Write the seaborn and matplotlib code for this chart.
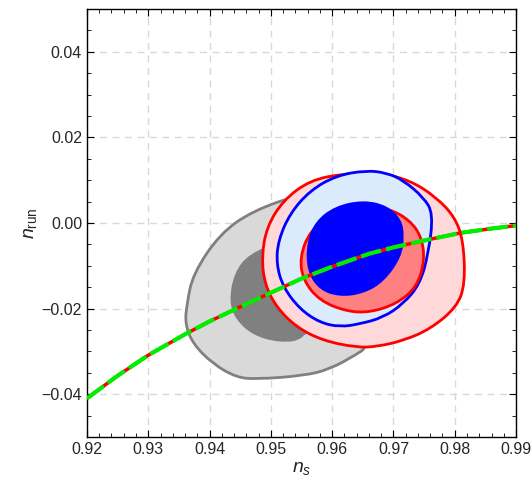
import numpy as np
import pandas as pd
import matplotlib
matplotlib.use("Agg")
import matplotlib.pyplot as plt
from matplotlib.path import Path
from matplotlib.patches import PathPatch
import seaborn as sns

# contour outlines (n_s, n_run)
gray_outer_ns = [0.9552, 0.9471, 0.9417, 0.9373, 0.9363, 0.9360, 0.9373, 0.9406, 0.9444, 0.9477,
                 0.9553, 0.9596, 0.9640, 0.9656, 0.9680, 0.9680, 0.9630, 0.9580]
gray_outer_nrun = [0.0069, 0.0029, -0.0025, -0.0119, -0.0189, -0.0236, -0.0283, -0.0330, -0.0361, -0.0365,
                   -0.0357, -0.0342, -0.0307, -0.0291, -0.0200, -0.0050, 0.0040, 0.0068]

gray_inner_ns = [0.9520, 0.9464, 0.9440, 0.9432, 0.9442, 0.9471, 0.9515, 0.9555, 0.9580, 0.9580, 0.9555]
gray_inner_nrun = [-0.0040, -0.0072, -0.0117, -0.0182, -0.0225, -0.0263, -0.0280, -0.0273, -0.0200, -0.0100, -0.0040]

red_outer_ns = [0.9564, 0.9520, 0.9493, 0.9485, 0.9490, 0.9509, 0.9542, 0.9585, 0.9640, 0.9673,
                0.9716, 0.9760, 0.9803, 0.9817, 0.9814, 0.9800, 0.9770, 0.9727, 0.9673, 0.9618]
red_outer_nrun = [0.0100, 0.0053, -0.0010, -0.0080, -0.0143, -0.0197, -0.0244, -0.0275, -0.0291, -0.0289,
                  -0.0275, -0.0248, -0.0197, -0.0143, -0.0041, 0.0014, 0.0060, 0.0100, 0.0119, 0.0115]

blue_outer_ns = [0.9656, 0.9607, 0.9564, 0.9531, 0.9512, 0.9509, 0.9520, 0.9547, 0.9580, 0.9613,
                 0.9645, 0.9683, 0.9716, 0.9743, 0.9757, 0.9765, 0.9749, 0.9716, 0.9689]
blue_outer_nrun = [0.0123, 0.0111, 0.0076, 0.0022, -0.0041, -0.0096, -0.0150, -0.0201, -0.0233, -0.0243,
                   -0.0236, -0.0221, -0.0189, -0.0143, -0.0072, 0.0022, 0.0060, 0.0100, 0.0117]

red_inner_ns = [0.9651, 0.9602, 0.9564, 0.9547, 0.9553, 0.9580, 0.9624, 0.9662, 0.9705, 0.9738,
                0.9751, 0.9746, 0.9727, 0.9694]
red_inner_nrun = [0.0041, 0.0025, -0.0018, -0.0080, -0.0135, -0.0182, -0.0207, -0.0209, -0.0189, -0.0150,
                  -0.0088, -0.0033, 0.0006, 0.0033]

blue_inner_ns = [0.9651, 0.9605, 0.9572, 0.9558, 0.9559, 0.9579, 0.9613, 0.9652, 0.9685, 0.9713,
                 0.9718, 0.9713, 0.9690]
blue_inner_nrun = [0.0054, 0.0040, 0.0004, -0.0049, -0.0113, -0.0157, -0.0173, -0.0165, -0.0137, -0.0080,
                   -0.0031, 0.0009, 0.0041]

# model curve
curve_ns = [0.920, 0.925, 0.930, 0.936, 0.940, 0.945, 0.950, 0.955, 0.960, 0.966,
            0.970, 0.975, 0.981, 0.986, 0.990]
curve_nrun = [-0.0410, -0.0357, -0.0309, -0.0260, -0.0230, -0.0196, -0.0163, -0.0130, -0.0102, -0.0072,
              -0.0057, -0.0041, -0.0023, -0.0013, -0.0006]


def smooth_region(ax, xs, ys, **kw):
    # closed quadratic bezier path: outline points act as control points
    pts = np.column_stack([xs, ys])
    n = len(pts)
    mids = (pts + np.roll(pts, -1, axis=0)) / 2
    verts = [mids[-1]]
    codes = [Path.MOVETO]
    for i in range(n):
        verts += [pts[i], mids[i]]
        codes += [Path.CURVE3, Path.CURVE3]
    verts.append(mids[-1])
    codes.append(Path.CLOSEPOLY)
    patch = PathPatch(Path(verts, codes), joinstyle='round', **kw)
    ax.add_patch(patch)


sns.set_style("ticks")
plt.rcParams['font.family'] = ['Liberation Sans', 'DejaVu Sans']
plt.rcParams['mathtext.fontset'] = 'custom'
plt.rcParams['mathtext.it'] = 'Liberation Sans:italic'
plt.rcParams['mathtext.rm'] = 'Liberation Sans'

fig = plt.figure(figsize=(5.32, 4.92), dpi=100)
ax = fig.add_axes([0.1635, 0.112, 0.8065, 0.8695])

smooth_region(ax, gray_outer_ns, gray_outer_nrun, facecolor='#d9d9d9', edgecolor='#808080', lw=2, zorder=1)
smooth_region(ax, gray_inner_ns, gray_inner_nrun, facecolor='#808080', edgecolor='none', zorder=2)
smooth_region(ax, red_outer_ns, red_outer_nrun, facecolor='#ffd9d9', edgecolor='#ff0000', lw=2, zorder=3)
smooth_region(ax, blue_outer_ns, blue_outer_nrun, facecolor='#dcebfb', edgecolor='#0000ff', lw=2, zorder=4)
smooth_region(ax, red_inner_ns, red_inner_nrun, facecolor='#ff8080', edgecolor='#ff0000', lw=2, zorder=5)
smooth_region(ax, blue_inner_ns, blue_inner_nrun, facecolor='#0000ff', edgecolor='none', zorder=6)

df = pd.DataFrame({'ns': curve_ns, 'nrun': curve_nrun})
sns.lineplot(data=df, x='ns', y='nrun', ax=ax, color='#ff0000', lw=2.5, sort=False, zorder=7)
sns.lineplot(data=df, x='ns', y='nrun', ax=ax, color='#00ee00', lw=3, sort=False, zorder=8)
ax.lines[-1].set_dashes([5, 1.2])

ax.set_xlim(0.92, 0.99)
ax.set_ylim(-0.05, 0.05)
ax.set_xticks(np.arange(0.92, 0.9901, 0.01))
ax.set_yticks([-0.04, -0.02, 0.0, 0.02, 0.04])
ax.set_xticks(np.arange(0.92, 0.99, 0.002), minor=True)
ax.set_yticks(np.arange(-0.05, 0.0501, 0.005), minor=True)
ax.set_xticklabels([f"{v:.2f}" for v in np.arange(0.92, 0.9901, 0.01)])
ax.set_yticklabels(['\u22120.04', '\u22120.02', '0.00', '0.02', '0.04'])
ax.tick_params(which='both', direction='in', top=True, right=True, labelsize=11.5, color='black')
ax.tick_params(which='major', length=5, width=0.8)
ax.tick_params(which='minor', length=3, width=0.6)
ax.grid(True, which='major', color='#d8d8d8', linestyle=(0, (5, 4)), lw=1, zorder=0)
ax.set_axisbelow(True)
for s in ax.spines.values():
    s.set_color('black')
    s.set_linewidth(1)

ax.set_xlabel(r'$n_s$', fontsize=14, labelpad=2)
ax.set_ylabel(r'$n_{\rm run}$', fontsize=14, labelpad=2)

fig.savefig('out.png', dpi=100)
